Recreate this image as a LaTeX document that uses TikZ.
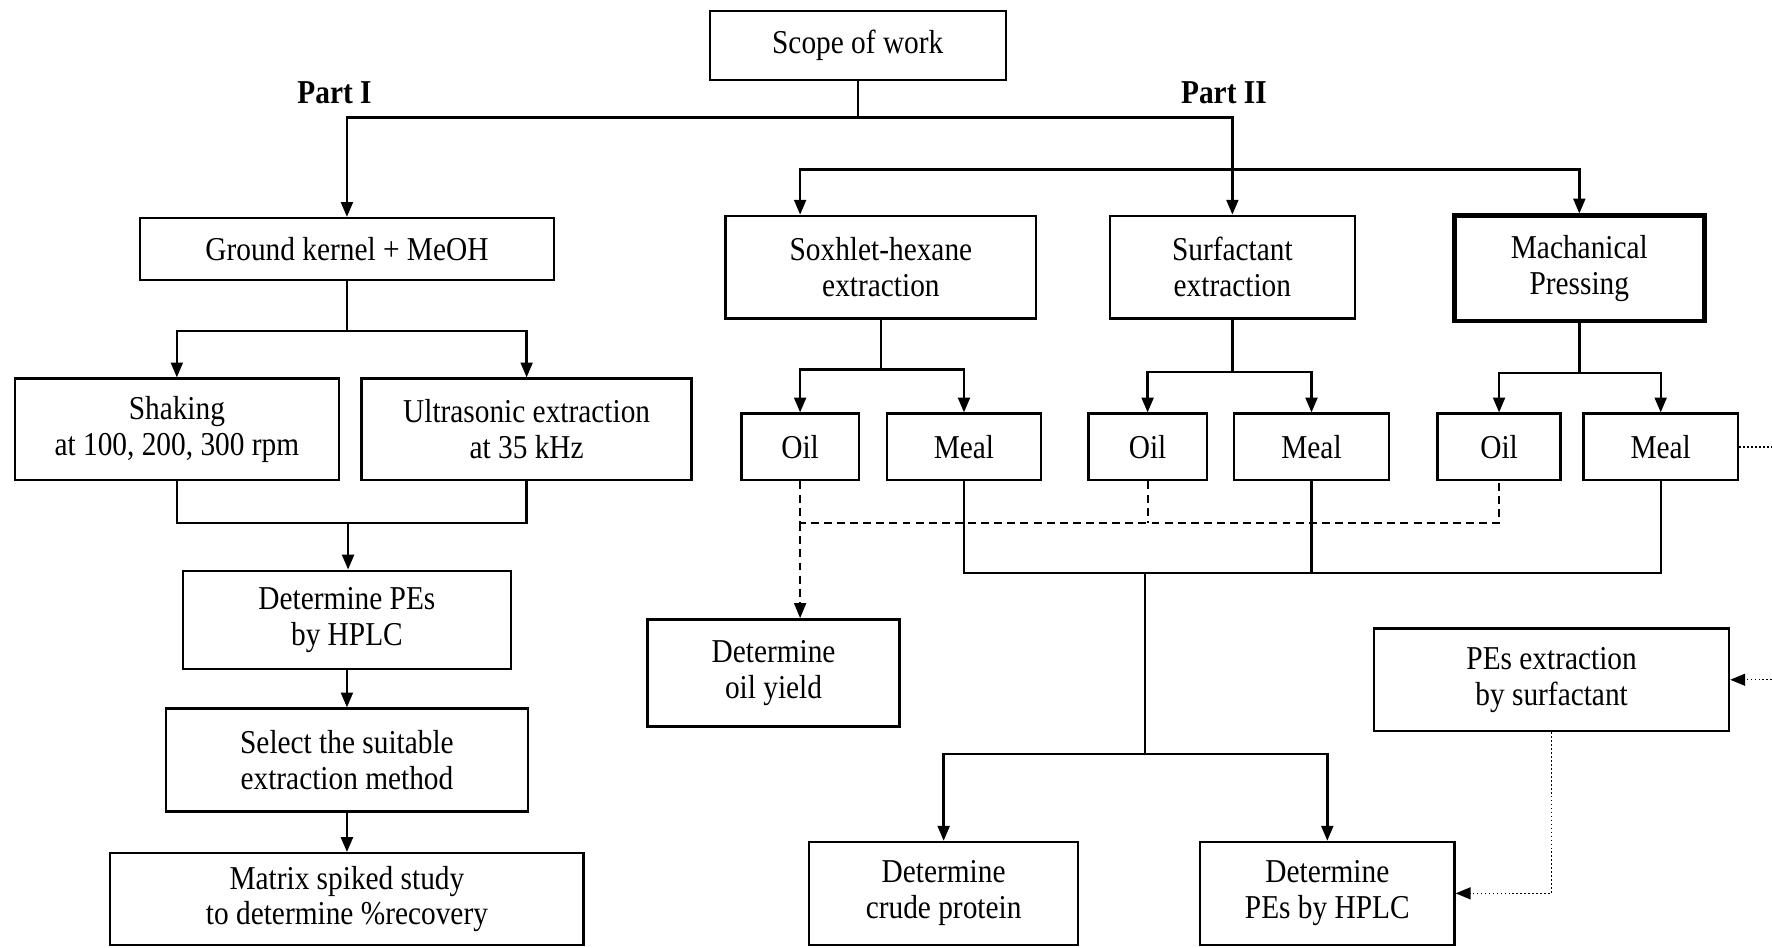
\documentclass[tikz,border=0pt]{standalone}
\usepackage{fontspec}
\setmainfont{Liberation Serif}[FakeStretch=0.88]
\usetikzlibrary{arrows.meta}
\tikzset{
  box/.style={draw, line width=1.2pt, align=center, inner sep=0pt,
    font=\fontsize{16.8}{18}\selectfont},
  conn/.style={line width=1.2pt},
  arr/.style={conn, -{Triangle[length=7.5pt,width=6pt]}},
  dashln/.style={line width=0.9pt, dash pattern=on 4pt off 2.6pt},
  dasharr/.style={dashln, -{Triangle[length=7.5pt,width=6pt]}},
  dotln/.style={line width=0.7pt, dash pattern=on 0.8pt off 1.2pt},
  dotarr/.style={dotln, -{Triangle[length=7.5pt,width=6pt]}},
  lbl/.style={font=\fontsize{16.8}{18}\selectfont\bfseries}
}
\begin{document}
\begin{tikzpicture}[x=0.02cm,y=-0.02cm]
\useasboundingbox[fill=white] (0,0) rectangle (1568,838);

% nodes
\node[box, minimum width=5.24cm, minimum height=1.22cm] (scope) at (759,40.5) {Scope of work};
\node[lbl] (p1) at (296,82) {Part I};
\node[lbl] (p2) at (1083,82) {Part II};

\node[box, minimum width=7.32cm, minimum height=1.10cm] (ground) at (307,220.5) {Ground kernel + MeOH};
\node[box, minimum width=5.74cm, minimum height=1.80cm] (shake) at (156.5,380) {Shaking\\at 100, 200, 300 rpm};
\node[box, minimum width=5.84cm, minimum height=1.80cm] (ultra) at (466,380) {Ultrasonic extraction\\at 35 kHz};
\node[box, minimum width=5.80cm, minimum height=1.74cm] (detpe1) at (307,548.5) {Determine PEs\\by HPLC};
\node[box, minimum width=6.40cm, minimum height=1.82cm] (select) at (307,672.5) {Select the suitable\\extraction method};
\node[box, minimum width=8.38cm, minimum height=1.62cm] (matrix) at (307,795.5) {Matrix spiked study\\to determine \%recovery};

\node[box, minimum width=5.50cm, minimum height=1.82cm] (sox) at (779.5,236.5) {Soxhlet-hexane\\extraction};
\node[box, minimum width=4.34cm, minimum height=1.82cm] (surf) at (1090.5,236.5) {Surfactant\\extraction};
\node[box, line width=2.4pt, minimum width=4.42cm, minimum height=1.86cm] (mach) at (1397.5,237.5) {Machanical\\Pressing};

\node[box, minimum width=2.08cm, minimum height=1.18cm] (oil1) at (708,395.5) {Oil};
\node[box, minimum width=2.72cm, minimum height=1.18cm] (meal1) at (853,395.5) {Meal};
\node[box, minimum width=2.10cm, minimum height=1.18cm] (oil2) at (1015.5,395.5) {Oil};
\node[box, minimum width=2.74cm, minimum height=1.18cm] (meal2) at (1160.5,395.5) {Meal};
\node[box, minimum width=2.18cm, minimum height=1.18cm] (oil3) at (1326.5,395.5) {Oil};
\node[box, minimum width=2.74cm, minimum height=1.18cm] (meal3) at (1469.5,395.5) {Meal};

\node[box, minimum width=4.46cm, minimum height=1.90cm] (yield) at (684.5,595.5) {Determine\\oil yield};
\node[box, minimum width=6.28cm, minimum height=1.82cm] (pesext) at (1373,601.5) {PEs extraction\\by surfactant};
\node[box, minimum width=4.76cm, minimum height=1.82cm] (crude) at (835,790.5) {Determine\\crude protein};
\node[box, minimum width=4.50cm, minimum height=1.82cm] (detpe2) at (1174.5,790.5) {Determine\\PEs by HPLC};

% helper coordinates
\coordinate (j1) at (760,104);
\coordinate (j2) at (1091,150);
\coordinate (m1) at (308,463);
\coordinate (d1) at (708,463);
\coordinate (m2) at (1013,507);
\coordinate (m3) at (1013,667);
\coordinate (redge) at (1568,0);

% top level
\draw[conn] (scope.south) -- (scope.south |- j1);
\draw[arr] (scope.south |- j1) -| (ground.north);
\draw[arr] (scope.south |- j1) -| (surf.north);
\draw[arr] (j2) -| (oil1.north |- sox.north);
\draw[arr] (j2) -| (mach.north);

% part I
\draw[arr] (ground.south) -- ++(0,44) -| (shake.north);
\draw[arr] (ground.south) -- ++(0,44) -| (ultra.north);
\draw[conn] (shake.south) |- (m1) -| (ultra.south);
\draw[arr] (m1) -- (m1 |- detpe1.north);
\draw[arr] (detpe1.south) -- (select.north);
\draw[arr] (select.south) -- (matrix.north);

% part II splits
\draw[arr] (sox.south) -- ++(0,44) -| (oil1.north);
\draw[arr] (sox.south) -- ++(0,44) -| (meal1.north);
\draw[arr] (surf.south) -- ++(0,46) -| (oil2.north);
\draw[arr] (surf.south) -- ++(0,46) -| (meal2.north);
\draw[arr] (mach.south) -- ++(0,44) -| (oil3.north);
\draw[arr] (mach.south) -- ++(0,44) -| (meal3.north);

% oil (dashed)
\draw[dashln] (oil1.south) -- (d1) -| (oil3.south);
\draw[dashln] (oil2.south) -- (oil2.south |- d1);
\draw[dasharr] (d1) -- (d1 |- yield.north);

% meal (solid)
\draw[conn] (meal1.south) |- (meal3.south |- m2) -- (meal3.south);
\draw[conn] (meal2.south) -- (meal2.south |- m2);
\draw[conn] (m2) -- (m3);
\draw[arr] (m3) -| (crude.north);
\draw[arr] (m3) -| (detpe2.north);

% dotted
\draw[dotln] (meal3.east) -- (meal3.east -| redge);
\draw[dotarr] (pesext.east -| redge) -- (pesext.east);
\draw[dotarr] (pesext.south) |- (detpe2.east);
\end{tikzpicture}
\end{document}
